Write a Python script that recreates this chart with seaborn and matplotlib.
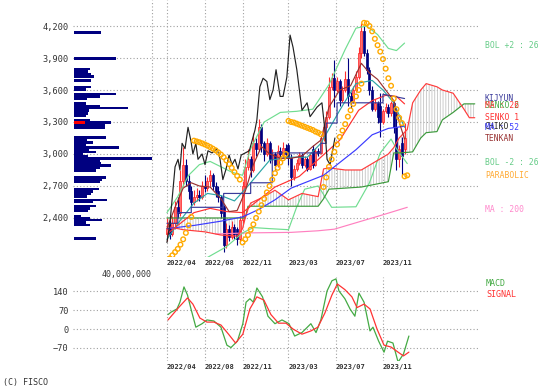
import numpy as np
import pandas as pd
import matplotlib
matplotlib.use("Agg")
import matplotlib.pyplot as plt
import matplotlib.transforms as mtransforms
import seaborn as sns

sns.set_style("white")
plt.rcParams['font.family'] = ['DejaVu Sans Mono', 'DejaVu Sans']
plt.rcParams['hatch.linewidth'] = 0.6

# ---------------- data (weekly index, 0 = 2022/04) ----------------
OPEN = [2250, 2300, 2250, 2350, 2500, 2450, 2750, 2900, 2750, 2650,
        2550, 2600, 2620, 2600, 2700, 2680, 2750, 2800, 2700, 2650,
        2600, 2500, 2150, 2300, 2220, 2320, 2300, 2200, 2380, 2700,
        2880, 2950, 2850, 3100, 3050, 3250, 3100, 3000, 3100, 2950,
        3000, 2900, 3030, 2990, 3060, 3080, 2960, 2780, 2860, 2920,
        2990, 2900, 2950, 2860, 3050, 2900, 3030, 3010, 3150, 3250,
        3350, 3630, 3710, 3600, 3680, 3510, 3600, 3700, 3540, 3500,
        3600, 3720, 3950, 4150, 3950, 3790, 3600, 3420, 3480, 3450,
        3300, 3400, 3440, 3380, 3480, 3250, 2950, 3100, 3050]
HIGH = [2400, 2380, 2420, 2560, 2600, 2850, 3070, 2950, 2800, 2700,
        2660, 2680, 2660, 2750, 2800, 2780, 2850, 2820, 2740, 2700,
        2620, 2520, 2350, 2330, 2370, 2340, 2320, 2420, 2750, 2950,
        3050, 2980, 3200, 3150, 3330, 3280, 3120, 3150, 3120, 3050,
        3020, 3080, 3070, 3110, 3090, 3100, 3000, 2900, 2950, 3020,
        3010, 2980, 2970, 3010, 3080, 3060, 3060, 3170, 3280, 3400,
        3720, 3760, 3880, 3720, 3700, 3640, 3780, 3900, 3580, 3640,
        3780, 4000, 4230, 4200, 3980, 3820, 3640, 3520, 3500, 3570,
        3420, 3480, 3470, 3500, 3500, 3420, 3080, 3160, 3290]
LOW = [2180, 2200, 2230, 2300, 2400, 2420, 2700, 2700, 2580, 2500,
       2520, 2560, 2560, 2580, 2640, 2650, 2700, 2660, 2600, 2550,
       2400, 2080, 2120, 2180, 2200, 2200, 2150, 2180, 2350, 2680,
       2850, 2780, 2830, 2980, 3030, 3020, 2930, 2980, 2920, 2920,
       2850, 2880, 2960, 2970, 2980, 2900, 2700, 2760, 2840, 2900,
       2870, 2880, 2840, 2850, 2870, 2890, 2980, 3000, 3120, 3230,
       3330, 3600, 3440, 3580, 3450, 3490, 3580, 3450, 3430, 3480,
       3580, 3700, 3900, 3920, 3750, 3550, 3400, 3400, 3290, 3160,
       3280, 3380, 3350, 3360, 3200, 2850, 2880, 2800, 3000]
CLOSE = [2300, 2250, 2350, 2500, 2450, 2750, 2900, 2750, 2650, 2550,
         2600, 2620, 2600, 2700, 2680, 2750, 2800, 2700, 2650, 2600,
         2450, 2150, 2300, 2220, 2320, 2250, 2200, 2380, 2700, 2880,
         2950, 2850, 3100, 3050, 3250, 3100, 3000, 3100, 2950, 3000,
         2900, 3030, 3000, 3060, 3000, 2960, 2780, 2860, 2920, 2990,
         2900, 2950, 2860, 2990, 2900, 3030, 3010, 3150, 3250, 3350,
         3630, 3710, 3600, 3680, 3510, 3600, 3700, 3540, 3500, 3600,
         3720, 3950, 4150, 3950, 3790, 3600, 3420, 3480, 3350, 3300,
         3400, 3440, 3380, 3480, 3250, 2950, 3050, 2980, 3150]
WEEK = list(range(len(CLOSE)))

MA26_X = [0, 5, 10, 16, 22, 28, 34, 40, 49, 57, 64, 71, 76, 81, 85, 88]
MA26 = [2250, 2350, 2450, 2490, 2460, 2450, 2570, 2690, 2790, 2970, 3130, 3410, 3500, 3550, 3540, 3470]
MA52_X = [0, 10, 20, 28, 34, 40, 46, 52, 58, 64, 70, 76, 82, 88]
MA52 = [2300, 2330, 2370, 2410, 2480, 2570, 2680, 2740, 2800, 2920, 3040, 3180, 3240, 3260]
MA200_X = [18, 30, 46, 56, 62, 70, 80, 89]
MA200 = [2250, 2260, 2265, 2280, 2295, 2355, 2430, 2500]
MID_X = [0, 5, 10, 15, 20, 25, 30, 38, 45, 52, 57, 64, 70, 76, 80, 84, 88]
MID = [2200, 2380, 2540, 2630, 2610, 2560, 2700, 2940, 2970, 2970, 3100, 3410, 3660, 3690, 3600, 3480, 3250]
BOLU_X = [0, 4, 8, 12, 16, 20, 24, 28, 31, 36, 42, 48, 54, 60, 66, 70, 74, 78, 82, 85, 88]
BOLU = [2450, 2600, 2800, 2900, 2930, 2880, 2830, 2800, 3050, 3300, 3390, 3400, 3420, 3650, 3980, 4180, 4200, 4120, 3990, 3970, 4040]
BOLL_X = [0, 10, 15, 22, 28, 32, 38, 45, 48, 51, 56, 61, 70, 75, 79, 83, 85, 89]
BOLL = [1900, 1960, 2030, 2130, 2260, 2310, 2300, 2290, 2500, 2670, 2700, 2500, 2505, 2730, 3010, 3140, 3050, 2910]
TENKAN_X = [0, 3, 6, 9, 12, 16, 20, 23, 26, 29, 32, 35, 38, 42, 46, 50, 54, 57, 60, 64, 68, 72, 75, 78, 81, 84, 86, 88]
TENKAN = [2300, 2500, 2680, 2730, 2700, 2690, 2580, 2460, 2470, 2650, 2900, 3070, 3000, 2960, 2960, 2980, 3070, 3130,
          3440, 3600, 3640, 3850, 3760, 3700, 3600, 3500, 3300, 3140]
KIJUN_X = [0, 4, 4, 9, 9, 21, 21, 31, 31, 39, 39, 57, 57, 59, 59, 63, 63, 80, 80, 88]
KIJUN = [2350, 2350, 2450, 2450, 2500, 2500, 2630, 2630, 2730, 2730, 3010, 3010, 3100, 3100, 3290, 3290, 3480, 3480, 3560, 3520]
CLOUD_X = [0, 6, 14, 20, 26, 28, 29, 30, 31, 36, 40, 45, 50, 56, 58, 60, 66, 72, 78, 82, 84, 86, 89, 91, 94,
           96, 100, 102, 106, 110, 112, 114]
SENKO1 = [2320, 2290, 2270, 2240, 2230, 2300, 2400, 2480, 2540, 2600, 2660, 2570, 2630, 2600, 2860, 2870, 2850, 2850,
          2940, 3000, 3060, 3150, 3230, 3480, 3600, 3660, 3630, 3600, 3570, 3420, 3340, 3340]
SENKO2 = [2400, 2400, 2400, 2400, 2400, 2400, 2400, 2510, 2510, 2510, 2510, 2510, 2510, 2510, 2580, 2670, 2680, 2690,
          2720, 2740, 3010, 3010, 3015, 3020, 3150, 3200, 3210, 3320, 3390, 3470, 3470, 3470]
CHIKOU_X = [0, 1.1, 3, 4.1, 4.8, 5.6, 6.7, 7.8, 8.9, 9.6, 10.7, 11.5, 13, 14.1, 15.2, 16.7, 18.5, 19.6, 20.7, 21.9,
            23, 24.1, 25.2, 26.3, 27.5, 29, 30.5, 32.6, 33.3, 34.4, 35.6, 37, 38.1, 39.3, 40.4, 41.9, 43, 44.4, 45.6,
            46.7, 48.1, 50, 51.9, 53, 55.6, 57.4, 58.5, 59.3, 60.4, 61.5, 62.2]
CHIKOU = [2170, 2350, 2880, 2950, 2850, 3100, 3050, 3250, 3120, 3000, 3100, 2950, 3000, 2900, 3030, 3010, 3050, 2960,
          2760, 2860, 2990, 2900, 2950, 2860, 2990, 3010, 3030, 3225, 3320, 3630, 3710, 3680, 3510, 3600, 3790, 3540,
          3540, 3720, 4115, 4000, 3790, 3410, 3480, 3350, 3440, 3480, 3225, 2950, 2900, 3050, 3150]
SAR_X = list(range(90))
SAR = [1990, 2020, 2050, 2080, 2110, 2150, 2200, 2260, 2330, 2410,
       3125, 3118, 3110, 3100, 3090, 3078, 3065, 3050, 3035, 3015,
       2995, 2970, 2940, 2905, 2870, 2830, 2795, 2760, 2170, 2200,
       2240, 2290, 2340, 2400, 2460, 2520, 2580, 2640, 2700, 2760,
       2820, 2870, 2920, 2960, 3000, 3310, 3300, 3295, 3285, 3275,
       3265, 3255, 3245, 3235, 3225, 3210, 3200, 3185, 2690, 2780,
       2880, 2950, 3020, 3090, 3160, 3220, 3280, 3350, 3410, 3470,
       3540, 3600, 3660, 4230, 4225, 4200, 4150, 4080, 4020, 3960,
       3890, 3800, 3710, 3640, 3520, 3420, 3340, 3290, 2790, 2800]

PROFILE_PRICE = [4140, 3897, 3795, 3772, 3750, 3728, 3690, 3630, 3607, 3563, 3540, 3518, 3472, 3450, 3431, 3408,
                 3381, 3359, 3320, 3297, 3274, 3251, 3153, 3131, 3108, 3085, 3062, 3040, 3020, 3000, 2980, 2958,
                 2936, 2913, 2890, 2867, 2845, 2782, 2760, 2737, 2670, 2648, 2625, 2602, 2570, 2548, 2513, 2490,
                 2468, 2420, 2398, 2380, 2357, 2333, 2210]
PROFILE_VOL = [14.2, 21.5, 8.2, 7.3, 9.0, 10.3, 9.1, 8.7, 6.5, 21.9, 13.3, 7.0, 6.5, 13.3, 27.7, 8.0,
               7.3, 6.5, 8.6, 19.3, 15.9, 15.9, 16.8, 6.8, 9.9, 6.5, 23.2, 8.0, 11.3, 4.8, 7.3, 41.0,
               13.3, 14.2, 19.3, 13.3, 11.6, 16.4, 14.7, 13.3, 13.0, 9.9, 9.1, 6.8, 17.1, 9.9, 11.3, 8.6,
               7.3, 4.0, 8.2, 14.7, 6.5, 8.2, 11.3]
CURRENT_PRICE = 3297
CURRENT_VOL = 5.6

MACD_X = [0.4, 1.5, 3.7, 4.8, 6.3, 7.6, 8.9, 10.7, 13, 14.8, 17.4, 20, 22.2, 23.7, 26.1, 28.1, 29.3, 30.7, 32,
          33.3, 35.4, 37.4, 40, 42.6, 45.2, 47.3, 50, 53.3, 55.2, 57, 59.3, 61.1, 62.6, 63.7, 65.9, 67.8, 69.6,
          71.1, 73, 75.2, 76.3, 78.4, 80.4, 81.7, 83.7, 85.6, 87.6, 89.6]
MACD = [54, 63, 75, 100, 157, 127, 75, 7, 20, 34, 30, 7, -60, -69, -45, 20, 100, 113, 100,
        153, 120, 48, 20, 34, 20, -26, -13, 20, -13, 34, 142, 180, 187, 142, 113, 75, 48,
        134, 100, -7, 7, -45, -86, -45, -52, -123, -93, -26]
SIGNAL_X = [0.4, 4.3, 7.6, 9.6, 12.2, 14.8, 17.4, 20, 22.8, 25.4, 28.1, 30.7, 33.3, 35.9, 38.5, 41.3, 44.1,
            46.7, 50, 53.3, 55.9, 58.5, 61.1, 63.1, 65.9, 68.5, 70.4, 73, 75.2, 77.8, 80.4, 83, 85.6, 87.6, 89.6]
SIGNAL = [34, 80, 116, 93, 41, 26, 26, 15, -19, -52, -19, 75, 120, 108, 54, 22, 22,
          0, -19, -7, 7, 60, 127, 168, 147, 120, 80, 93, 75, 0, -60, -67, -86, -100, -86]

DATE_POS = [0, 14, 28, 45, 62.5, 80]
DATE_LABELS = ['2022/04', '2022/08', '2022/11', '2023/03', '2023/07', '2023/11']
PRICE_TICKS = [2400, 2700, 3000, 3300, 3600, 3900, 4200]
MACD_TICKS = [140, 70, 0, -70]

# right-hand labels (text, colour, price level)
LINE_LABELS = [("BOL +2 : 26", "#66cc88", 4022), ("KIJYUN", "#3a3a9a", 3516),
               ("SENKO 2", "#44aa44", 3450), ("MA : 26", "#ff3333", 3450),
               ("SENKO 1", "#ff3333", 3338), ("CHIKO", "#222222", 3262),
               ("MA : 52", "#3a3aff", 3253), ("TENKAN", "#993333", 3141),
               ("BOL -2 : 26", "#66cc88", 2916), ("PARABOLIC", "#ffaa33", 2794),
               ("MA : 200", "#ff88cc", 2484)]

# ---------------- layout ----------------
W, H = 558, 388
fig = plt.figure(figsize=(W / 100, H / 100), dpi=100)


def box(x0, y0, x1, y1):
    return [x0 / W, 1 - y1 / H, (x1 - x0) / W, (y1 - y0) / H]


ax = fig.add_axes(box(73, 0, 478, 257))
axm = fig.add_axes(box(73, 277, 478, 361))
axv = fig.add_axes(box(73, 0, 152, 257))

XLIM = (-34.8, 115.2)
GRID = dict(linestyle=(0, (1, 2)), color='#a0a0a0', linewidth=0.8)
TXT = '#333333'

for a in (ax, axm):
    for s in a.spines.values():
        s.set_visible(False)
    a.set_xlim(*XLIM)
    a.grid(True, **GRID)
    a.set_axisbelow(True)
    a.set_xticks(DATE_POS)
    a.set_xticklabels(DATE_LABELS, fontsize=5, fontweight='bold', color=TXT, ha='left')
    a.tick_params(axis='x', length=0, pad=2)
    a.tick_params(axis='y', length=0, pad=3, labelsize=6.2, labelcolor=TXT)
    a.set_xlabel('')
    a.set_ylabel('')

ax.set_ylim(2034, 4444)
ax.set_yticks(PRICE_TICKS)
ax.set_yticklabels([f"{v:,}" for v in PRICE_TICKS])
ax.axvline(-5.6, zorder=0.5, **GRID)

# ichimoku cloud
ax.fill_between(CLOUD_X, SENKO1, SENKO2, facecolor='none', edgecolor='#c4c4c4',
                hatch='||||||', linewidth=0, zorder=1)

# candles
df = pd.DataFrame(dict(week=WEEK, o=OPEN, h=HIGH, l=LOW, c=CLOSE))
up = df[df.c >= df.o]
dn = df[df.c < df.o]
ax.vlines(up.week, up.l, up.h, color='#ff3030', linewidth=0.8, zorder=2)
ax.vlines(dn.week, dn.l, dn.h, color='#000080', linewidth=0.8, zorder=2)
ax.bar(up.week, (up.c - up.o).clip(lower=8), bottom=up.o, width=0.75,
       color='#ff7070', edgecolor='#ff2020', linewidth=0.5, zorder=2.1)
ax.bar(dn.week, (dn.o - dn.c).clip(lower=8), bottom=dn.c, width=0.75,
       color='#000080', edgecolor='#000080', linewidth=0.5, zorder=2.1)

# indicator lines
lines = [
    (MA200_X, MA200, '#ff80c0'),
    (BOLU_X, BOLU, '#70dd90'),
    (BOLL_X, BOLL, '#70dd90'),
    (CLOUD_X, SENKO2, '#3c9a3c'),
    (CLOUD_X, SENKO1, '#ff3b3b'),
    (MA52_X, MA52, '#3a3aff'),
    (MID_X, MID, '#2aa5a5'),
    (MA26_X, MA26, '#ff3030'),
    (KIJUN_X, KIJUN, '#3a3a9a'),
    (TENKAN_X, TENKAN, '#993030'),
    (CHIKOU_X, CHIKOU, '#222222'),
]
for xs, ys, col in lines:
    sns.lineplot(x=xs, y=ys, ax=ax, color=col, linewidth=0.85, estimator=None,
                 sort=False, legend=False, zorder=3)

sns.scatterplot(x=SAR_X, y=SAR, ax=ax, marker='o', s=11, facecolors='none',
                edgecolor='#ffaa00', linewidth=1.0, legend=False, zorder=4)

trans = mtransforms.blended_transform_factory(ax.transAxes, ax.transData)
for txt, col, yv in LINE_LABELS:
    ax.text(1.017, yv, txt, transform=trans, color=col, fontsize=5.8,
            va='center', ha='left', clip_on=False)

ax.set_xlim(*XLIM)
ax.set_ylim(2034, 4444)

# volume profile
axv.patch.set_alpha(0)
for s in axv.spines.values():
    s.set_visible(False)
axv.barh(PROFILE_PRICE, PROFILE_VOL, height=24, color='#000080', left=0, linewidth=0)
axv.barh([CURRENT_PRICE], [CURRENT_VOL], height=24, color='#ff0000', left=0, linewidth=0)
axv.set_xlim(-0.3, 40.2)
axv.set_ylim(2034, 4444)
axv.set_yticks([])
axv.set_xticks([40])
axv.set_xticklabels(['40,000,000'], fontsize=6, color=TXT, ha='right')
axv.tick_params(axis='x', length=0, pad=9)

# MACD panel
axm.set_ylim(-119, 194)
axm.set_yticks(MACD_TICKS)
sns.lineplot(x=MACD_X, y=MACD, ax=axm, color='#44aa44', linewidth=0.9,
             estimator=None, sort=False, legend=False, zorder=3)
sns.lineplot(x=SIGNAL_X, y=SIGNAL, ax=axm, color='#ff3333', linewidth=0.9,
             estimator=None, sort=False, legend=False, zorder=3)
axm.set_xlim(*XLIM)
axm.set_xlabel('')
axm.set_ylabel('')
axm.text(1.02, 0.917, 'MACD', transform=axm.transAxes, color='#44aa44',
         fontsize=6, va='center', ha='left')
axm.text(1.02, 0.786, 'SIGNAL', transform=axm.transAxes, color='#ff3333',
         fontsize=6, va='center', ha='left')

fig.text(3 / W, 1 - 382 / H, '(C) FISCO', fontsize=6, color=TXT, va='center', ha='left')

fig.savefig('out.png', dpi=100, facecolor='white')
